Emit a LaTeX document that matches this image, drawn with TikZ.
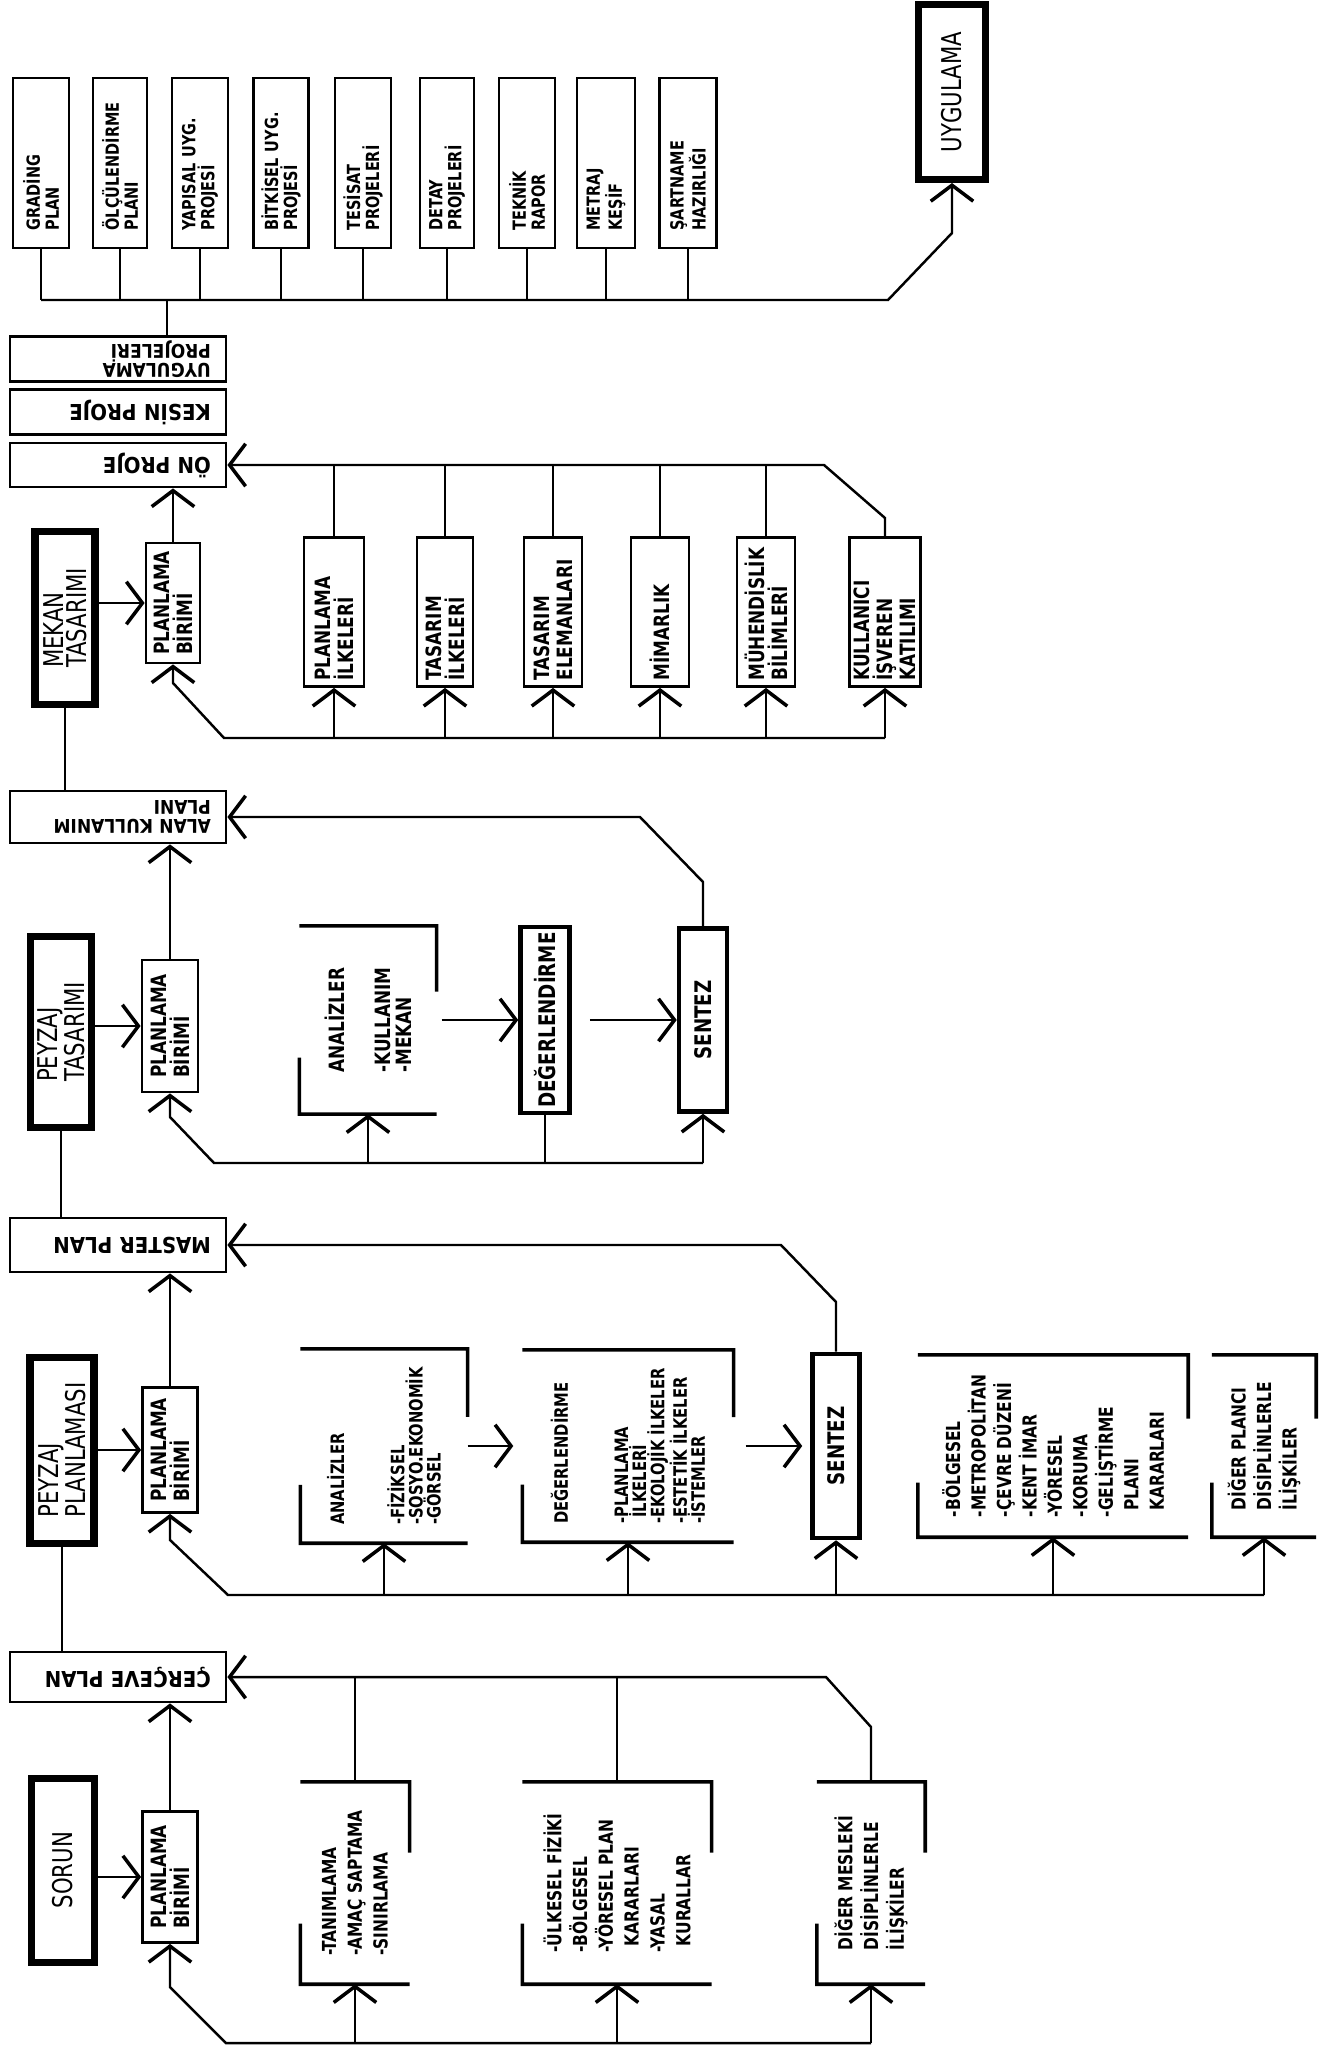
\documentclass[tikz,border=0pt]{standalone}
\usepackage{fontspec}
\setmainfont{Liberation Sans}
\newfontfamily\titlefont[FakeStretch=0.78]{DejaVu Sans}
\newfontfamily\condfont[FakeStretch=0.8]{DejaVu Sans}
\newfontfamily\outfont[FakeStretch=0.9]{DejaVu Sans}
\usetikzlibrary{arrows.meta,calc}

\begin{document}
\begin{tikzpicture}[
        x=0.02cm, y=-0.02cm,
        line width=1.4pt,
        >={Straight Barb[length=0.32cm,width=0.85cm,line width=2pt]},
        sz/.style 2 args={minimum width=#1*0.02cm, minimum height=#2*0.02cm},
        titlebox/.style={draw, line width=4pt, rotate=90, inner sep=0pt, align=left,
            font=\titlefont\fontsize{15.5}{13}\selectfont},
        plbox/.style={draw, line width=1.6pt, rotate=90, inner sep=0pt, align=left,
            font=\condfont\bfseries\fontsize{12}{13}\selectfont},
        topbox/.style={draw, line width=1.6pt, rotate=90, inner xsep=0.35cm, inner ysep=0pt,
            text width=2.7cm, align=left, font=\condfont\bfseries\fontsize{10.3}{10.8}\selectfont},
        inbox/.style={draw, line width=1.6pt, rotate=90, inner xsep=0.12cm, inner ysep=0pt,
            text width=2.74cm, align=left, font=\condfont\bfseries\fontsize{12}{13}\selectfont},
        stepbox/.style={draw, line width=2.6pt, rotate=90, inner sep=0pt, align=center,
            font=\condfont\bfseries\fontsize{13}{13}\selectfont},
        outbox/.style={draw, line width=1.6pt, rotate=180, inner xsep=0.3cm, inner ysep=0pt,
            text width=3.72cm, align=left, font=\outfont\bfseries\fontsize{12.5}{11}\selectfont},
        twoline/.style={font=\outfont\bfseries\fontsize{10.8}{11}\selectfont},
        grp/.style={rotate=90, inner sep=0pt, align=left},
        lvlone/.style={font=\condfont\bfseries\fontsize{11}{14.7}\selectfont},
        lvltwo/.style={font=\condfont\bfseries\fontsize{10.5}{10.3}\selectfont},
        lvltwowide/.style={font=\condfont\bfseries\fontsize{11}{14.5}\selectfont},
        lvlthree/.style={font=\condfont\bfseries\fontsize{12}{11.5}\selectfont},
        brk/.style={line width=2pt}
    ]

    \useasboundingbox (0,0) rectangle (1329,2058);

    %================================================
    % UYGULAMA: project documents
    %================================================
    \node[topbox, sz={170}{56}] (gra) at (41,163) {GRADİNG\\PLAN};
    \node[topbox, sz={170}{54}] (olc) at (120,163) {ÖLÇÜLENDİRME\\PLANI};
    \node[topbox, sz={170}{56}] (yap) at (200,163) {YAPISAL UYG.\\PROJESİ};
    \node[topbox, sz={170}{55}] (bit) at (281,163) {BİTKİSEL UYG.\\PROJESİ};
    \node[topbox, sz={170}{56}] (tes) at (363,163) {TESİSAT\\PROJELERİ};
    \node[topbox, sz={170}{54}] (det) at (447,163) {DETAY\\PROJELERİ};
    \node[topbox, sz={170}{56}] (tek) at (527,163) {TEKNİK\\RAPOR};
    \node[topbox, sz={170}{58}] (met) at (606,163) {METRAJ\\KEŞİF};
    \node[topbox, sz={170}{57}] (sar) at (688,163) {ŞARTNAME\\HAZIRLIĞI};
    \node[titlebox, sz={175}{67}] (uyg) at (952,92) {UYGULAMA};

    \node[outbox, twoline, minimum height=45*0.02cm] (up) at (118,359) {UYGULAMA\\PROJELERİ};
    \node[outbox, minimum height=45*0.02cm] (ke) at (118,412) {KESİN PROJE};
    \node[outbox, minimum height=44*0.02cm] (op) at (118,465) {ÖN PROJE};

    \coordinate (tb1) at (888,300);
    \coordinate (tb2) at (952,233);
    \coordinate (upc) at (167,300);

    \draw (gra.west) -- (gra.west |- tb1);
    \draw (olc.west) -- (olc.west |- tb1);
    \draw (yap.west) -- (yap.west |- tb1);
    \draw (bit.west) -- (bit.west |- tb1);
    \draw (tes.west) -- (tes.west |- tb1);
    \draw (det.west) -- (det.west |- tb1);
    \draw (tek.west) -- (tek.west |- tb1);
    \draw (met.west) -- (met.west |- tb1);
    \draw (sar.west) -- (sar.west |- tb1);
    \draw[->] (gra.west |- tb1) -- (tb1) -- (tb2) -- (uyg.west);
    \draw (upc |- up.south) -- (upc);

    %================================================
    % MEKAN TASARIMI
    %================================================
    \node[titlebox, sz={173}{60}] (mt) at (65,618) {MEKAN\\TASARIMI};
    \node[plbox, sz={120}{54}] (pb4) at (173,603) {PLANLAMA\\BİRİMİ};
    \node[inbox, sz={149}{60}] (pli) at (334,612) {PLANLAMA\\İLKELERİ};
    \node[inbox, sz={149}{56}] (tai) at (445,612) {TASARIM\\İLKELERİ};
    \node[inbox, sz={149}{58}] (tae) at (553,612) {TASARIM\\ELEMANLARI};
    \node[inbox, sz={149}{58}] (mim) at (660,612) {MİMARLIK};
    \node[inbox, sz={149}{58}] (muh) at (766,612) {MÜHENDİSLİK\\BİLİMLERİ};
    \node[inbox, sz={149}{71}] (kul) at (885,612) {KULLANICI\\İŞVEREN\\KATILIMI};

    \coordinate (a4) at (824,465);
    \coordinate (b4) at (885,518);
    \coordinate (d4) at (224,738);
    \coordinate (e4) at (173,683);

    \draw[->] (kul.east) -- (b4) -- (a4) -- (op.west);
    \draw (pli.east) -- (pli.east |- a4);
    \draw (tai.east) -- (tai.east |- a4);
    \draw (tae.east) -- (tae.east |- a4);
    \draw (mim.east) -- (mim.east |- a4);
    \draw (muh.east) -- (muh.east |- a4);
    \draw[->] (kul.west |- d4) -- (d4) -- (e4) -- (pb4.west);
    \draw[->] (pli.west |- d4) -- (pli.west);
    \draw[->] (tai.west |- d4) -- (tai.west);
    \draw[->] (tae.west |- d4) -- (tae.west);
    \draw[->] (mim.west |- d4) -- (mim.west);
    \draw[->] (muh.west |- d4) -- (muh.west);
    \draw[->] (kul.west |- d4) -- (kul.west);
    \draw[->] (pb4.east) -- (pb4.east |- op.north);
    \draw[->] (mt.south |- pb4.north) -- (pb4.north);

    %================================================
    % PEYZAJ TASARIMI
    %================================================
    \node[outbox, twoline, minimum height=52*0.02cm] (al) at (118,817) {ALAN KULLANIM\\PLANI};
    \node[titlebox, sz={191}{61}] (pt) at (61,1032) {PEYZAJ\\TASARIMI};
    \node[plbox, sz={132}{56}] (pb3) at (170,1026) {PLANLAMA\\BİRİMİ};
    \node[grp, lvlthree, sz={186}{135}] (an3) at (368,1020) {ANALİZLER\\[15pt]-KULLANIM\\-MEKAN};
    \node[stepbox, sz={186}{49}] (deg3) at (545,1020) {DEĞERLENDİRME};
    \node[stepbox, sz={183}{48}] (sen3) at (703,1020) {SENTEZ};

    \coordinate (a3) at (640,817);
    \coordinate (b3) at (703,882);
    \coordinate (d3) at (214,1163);
    \coordinate (e3) at (170,1117);

    \draw (mt.west) -- (mt.west |- al.south);
    \draw[->] (sen3.east) -- (b3) -- (a3) -- (al.west);
    \draw[->] (sen3.west |- d3) -- (d3) -- (e3) -- (pb3.west);
    \draw[->] (sen3.west |- d3) -- (sen3.west);
    \draw[->] (an3.west |- d3) -- (an3.west);
    \draw (deg3.west) -- (deg3.west |- d3);
    \draw[->, shorten <=0.1cm] (an3.south) -- (deg3.north);
    \draw[->, shorten <=0.36cm] (deg3.south) -- (sen3.north);
    \draw[->] (pb3.east) -- (pb3.east |- al.north);
    \draw[->] (pt.south |- pb3.north) -- (pb3.north);

    %================================================
    % PEYZAJ PLANLAMASI
    %================================================
    \node[outbox, minimum height=54*0.02cm] (ms) at (118,1245) {MASTER PLAN};
    \node[titlebox, sz={186}{64}] (pp) at (62,1450) {PEYZAJ\\PLANLAMASI};
    \node[plbox, sz={125}{55}] (pb2) at (170,1450) {PLANLAMA\\BİRİMİ};
    \node[grp, lvltwo, sz={192}{165}] (an2) at (384,1446)
        {ANALİZLER\\[24pt]-FİZİKSEL\\-SOSYO.EKONOMİK\\-GÖRSEL};
    \node[grp, lvltwo, sz={190}{209}] (deg2) at (628,1446)
        {DEĞERLENDİRME\\[24pt]-PLANLAMA\\\hphantom{-}İLKELERİ\\-EKOLOJİK İLKELER\\-ESTETİK İLKELER\\-İSTEMLER};
    \node[stepbox, sz={184}{47}] (sen2) at (836,1446) {SENTEZ};
    \node[grp, lvltwowide, sz={180}{268}] (pk) at (1053,1446)
        {-BÖLGESEL\\-METROPOLİTAN\\-ÇEVRE DÜZENİ\\-KENT İMAR\\-YÖRESEL\\-KORUMA\\-GELİŞTİRME\\\hphantom{-}PLANI\\\hphantom{-}KARARLARI};
    \node[grp, lvltwowide, sz={180}{102}] (dp) at (1264,1446) {DİĞER PLANCI\\DİSİPLİNLERLE\\İLİŞKİLER};

    \coordinate (a2) at (781,1245);
    \coordinate (b2) at (836,1302);
    \coordinate (d2) at (228,1595);
    \coordinate (e2) at (170,1540);

    \draw (pt.west) -- (pt.west |- ms.south);
    \draw[->] (sen2.east) -- (b2) -- (a2) -- (ms.west);
    \draw[->] (dp.west |- d2) -- (d2) -- (e2) -- (pb2.west);
    \draw[->] (dp.west |- d2) -- (dp.west);
    \draw[->] (an2.west |- d2) -- (an2.west);
    \draw[->] (deg2.west |- d2) -- (deg2.west);
    \draw[->] (sen2.west |- d2) -- (sen2.west);
    \draw[->] (pk.west |- d2) -- (pk.west);
    \draw[->, shorten >=0.18cm] (an2.south) -- (deg2.north);
    \draw[->, shorten <=0.24cm, shorten >=0.16cm] (deg2.south) -- (sen2.north);
    \draw[->] (pb2.east) -- (pb2.east |- ms.north);
    \draw[->] (pp.south |- pb2.north) -- (pb2.north);

    %================================================
    % SORUN
    %================================================
    \node[outbox, minimum height=50*0.02cm] (ce) at (118,1677) {ÇERÇEVE PLAN};
    \node[titlebox, sz={184}{63}] (so) at (63,1870) {SORUN};
    \node[plbox, sz={131}{55}] (pb1) at (170,1877) {PLANLAMA\\BİRİMİ};
    \node[grp, lvlone, sz={200}{107}] (tan) at (355,1883) {-TANIMLAMA\\-AMAÇ SAPTAMA\\-SINIRLAMA};
    \node[grp, lvlone, sz={200}{187}] (ulk) at (617,1883)
        {-ÜLKESEL FİZİKİ\\-BÖLGESEL\\-YÖRESEL PLAN\\\hphantom{-}KARARLARI\\-YASAL\\\hphantom{-}KURALLAR};
    \node[grp, lvlone, sz={200}{106}] (dm) at (871,1883) {DİĞER MESLEKİ\\DİSİPLİNLERLE\\İLİŞKİLER};

    \coordinate (a1) at (826,1677);
    \coordinate (b1) at (871,1727);
    \coordinate (d1) at (226,2043);
    \coordinate (e1) at (170,1987);

    \draw (pp.west) -- (pp.west |- ce.south);
    \draw[->] (dm.east) -- (b1) -- (a1) -- (ce.west);
    \draw (tan.east) -- (tan.east |- a1);
    \draw (ulk.east) -- (ulk.east |- a1);
    \draw[->] (dm.west |- d1) -- (d1) -- (e1) -- (pb1.west);
    \draw[->] (dm.west |- d1) -- (dm.west);
    \draw[->] (tan.west |- d1) -- (tan.west);
    \draw[->] (ulk.west |- d1) -- (ulk.west);
    \draw[->] (pb1.east) -- (pb1.east |- ce.north);
    \draw[->] (so.south |- pb1.north) -- (pb1.north);

    %================================================
    % open brackets round the text groups
    %================================================
    \foreach \n in {tan,ulk,dm,an2,deg2,pk,dp,an3} {
        \draw[brk] (\n.north east) -- (\n.south east) -- ($(\n.south east)!0.35!(\n.south west)$);
        \draw[brk] ($(\n.north west)!0.3!(\n.north east)$) -- (\n.north west) -- (\n.south west);
    }

\end{tikzpicture}
\end{document}
